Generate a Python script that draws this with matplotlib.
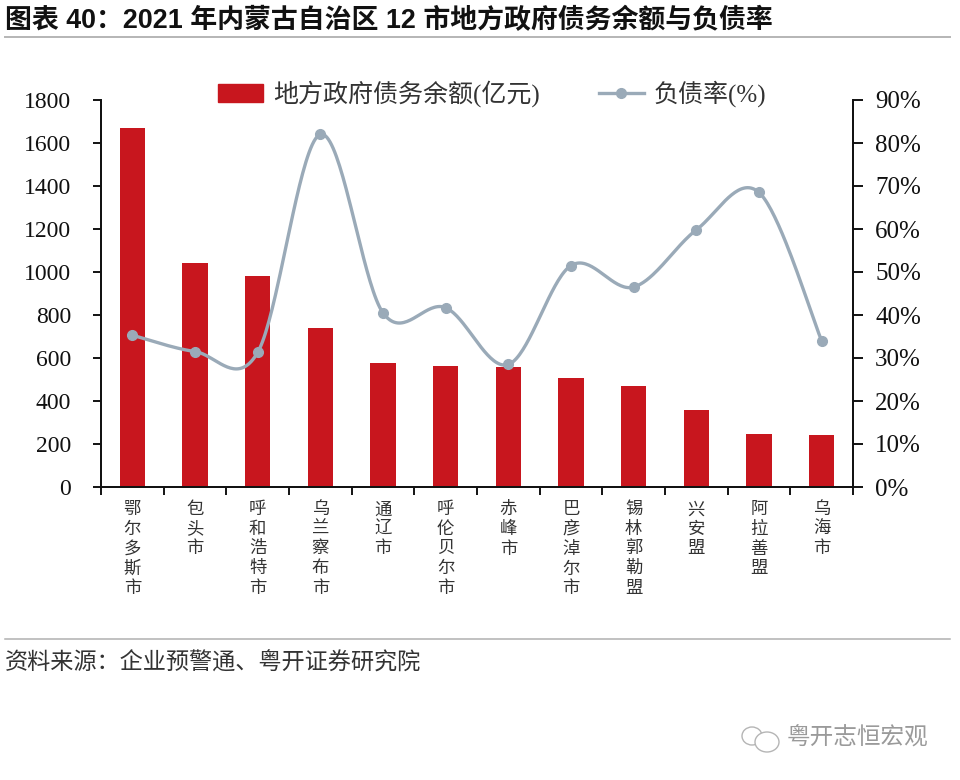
import numpy as np
import matplotlib
matplotlib.use("Agg")
import matplotlib.pyplot as plt
from matplotlib.lines import Line2D
from matplotlib.patches import Ellipse

cities = ["鄂尔多斯市", "包头市", "呼和浩特市", "乌兰察布市", "通辽市", "呼伦贝尔市",
          "赤峰市", "巴彦淖尔市", "锡林郭勒盟", "兴安盟", "阿拉善盟", "乌海市"]
debt = [1670, 1040, 980, 740, 575, 565, 560, 505, 470, 358, 248, 243]
rate = [35.3, 31.5, 31.3, 82.0, 40.5, 41.7, 28.5, 51.5, 46.5, 59.8, 68.5, 34.0]
left_ticks = [0, 200, 400, 600, 800, 1000, 1200, 1400, 1600, 1800]
right_ticks = [0, 10, 20, 30, 40, 50, 60, 70, 80, 90]

title = "图表 40：2021 年内蒙古自治区 12 市地方政府债务余额与负债率"
source = "资料来源：企业预警通、粤开证券研究院"
watermark = "粤开志恒宏观"
debt_label = "地方政府债务余额(亿元)"
rate_label = "负债率(%)"

SERIF = ["Liberation Serif", "Noto Sans CJK SC"]
SANS = ["Liberation Sans", "Noto Sans CJK SC"]
RED = "#C8161E"
SLATE = "#9AAAB8"
W, H = 960, 780


def smooth(xs, ys, n=40):
    """Bezier smoothing like a spreadsheet's smoothed line."""
    xs, ys = np.asarray(xs, float), np.asarray(ys, float)
    p = np.column_stack([xs, ys])
    out = []
    t = np.linspace(0, 1, n)[:, None]
    for i in range(len(p) - 1):
        a = p[max(i - 1, 0)]
        b, c = p[i], p[i + 1]
        d = p[min(i + 2, len(p) - 1)]
        c1 = b + (c - a) / 6
        c2 = c - (d - b) / 6
        out.append((1 - t) ** 3 * b + 3 * (1 - t) ** 2 * t * c1 + 3 * (1 - t) * t ** 2 * c2 + t ** 3 * c)
    out = np.vstack(out)
    return out[:, 0], out[:, 1]


fig = plt.figure(figsize=(W / 100, H / 100), dpi=100, facecolor="white")
ax = fig.add_axes([101 / W, 1 - 487 / H, (853 - 101) / W, (487 - 100) / H])
ax2 = ax.twinx()
x = np.arange(len(cities))

ax.bar(x, debt, width=0.4, color=RED)
ax.set_xlim(-0.5, len(cities) - 0.5)
ax.set_ylim(0, 1800)
ax.set_yticks(left_ticks)
ax.set_yticklabels([str(v) for v in left_ticks], family=SERIF, fontsize=17, color="#111111")
ax.set_xticks(np.arange(len(cities) + 1) - 0.5)
ax.set_xticklabels([])
ax.set_xticks(x, minor=True)
ax.set_xticklabels(["\n".join(c) for c in cities], minor=True, family=SERIF, fontsize=12.5,
                   color="#333333", linespacing=1.3)
ax.tick_params(axis="x", which="major", length=6, width=1.3, direction="out")
ax.tick_params(axis="x", which="minor", length=0, pad=11)
ax.tick_params(axis="y", length=6, width=1.3, direction="out", pad=15.4)

sx, sy = smooth(x, rate)
ax2.plot(sx, sy, color=SLATE, lw=2.4, solid_capstyle="round", zorder=3)
ax2.plot(x, rate, ls="none", marker="o", ms=7, color=SLATE, zorder=4)
ax2.set_ylim(0, 90)
ax2.set_yticks(right_ticks)
ax2.set_yticklabels([f"{v}%" for v in right_ticks], family=SERIF, fontsize=18, color="#111111")
ax2.tick_params(axis="y", length=7, width=1.3, direction="out", pad=9)

for a in (ax, ax2):
    a.spines["top"].set_visible(False)
    for s in ("left", "right", "bottom"):
        a.spines[s].set_linewidth(1.3)
        a.spines[s].set_color("#111111")

handles = [plt.Rectangle((0, 0), 1, 1, color=RED),
           Line2D([], [], color=SLATE, lw=2.4, marker="o", ms=7)]
leg = ax2.legend(handles, [debt_label, rate_label], ncol=2, frameon=False,
                 loc="center left", bbox_to_anchor=(218 / W, 1 - 94 / H),
                 bbox_transform=fig.transFigure, borderpad=0, borderaxespad=0,
                 handlelength=1.8, handletextpad=0.4, columnspacing=2.35,
                 prop={"family": SERIF, "size": 18})
for t in leg.get_texts():
    t.set_color("#333333")

fig.text(5 / W, 1 - 21 / H, title, family=SANS, fontsize=19.4, fontweight="bold",
         color="#111111", va="center", ha="left")
fig.add_artist(Line2D([5 / W, 950 / W], [1 - 37 / H] * 2, color="#B5B5B5", lw=1.4))
fig.add_artist(Line2D([5 / W, 950 / W], [1 - 639 / H] * 2, color="#B0B0B0", lw=1.1))
fig.text(5 / W, 1 - 663 / H, source, family=SANS, fontsize=16.7, style="italic",
         color="#333333", va="center", ha="left")
fig.text(787 / W, 1 - 738 / H, watermark, family=SANS, fontsize=17, color="#9A9A9A",
         va="center", ha="left")
for cx, cy, rx, ry in [(752, 736, 10, 9), (767, 742, 12, 10)]:
    fig.add_artist(Ellipse((cx / W, 1 - cy / H), 2 * rx / W, 2 * ry / H, fill=cx > 755,
                           facecolor="white", edgecolor="#B5B5B5", lw=1.0,
                           transform=fig.transFigure))

fig.savefig("out.png", dpi=100, facecolor="white")
